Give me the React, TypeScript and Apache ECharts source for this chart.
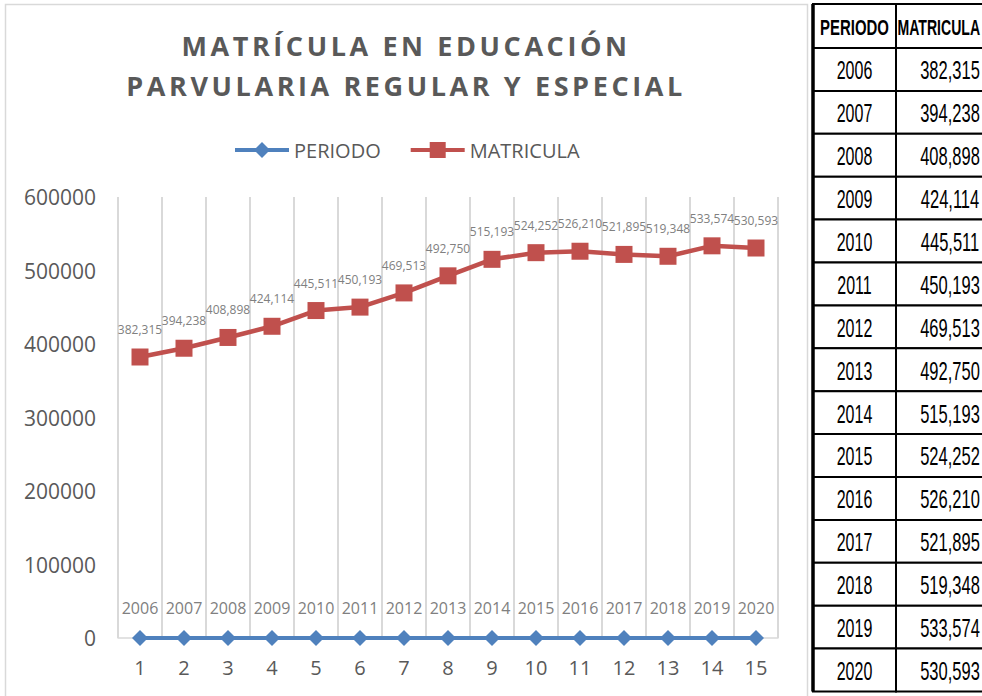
import React, { useEffect, useRef } from "react";
import * as echarts from "echarts";

const periods = ["2006", "2007", "2008", "2009", "2010", "2011", "2012", "2013", "2014", "2015", "2016", "2017", "2018", "2019", "2020"];
const indices = ["1", "2", "3", "4", "5", "6", "7", "8", "9", "10", "11", "12", "13", "14", "15"];
const periodoValues = [0, 0, 0, 0, 0, 0, 0, 0, 0, 0, 0, 0, 0, 0, 0];
const matricula = [382315, 394238, 408898, 424114, 445511, 450193, 469513, 492750, 515193, 524252, 526210, 521895, 519348, 533574, 530593];
const titleLines = ["MATRÍCULA EN EDUCACIÓN", "PARVULARIA REGULAR Y ESPECIAL"];
const tableHeaders = ["PERIODO", "MATRICULA"];

const fmt = (v: number) => v.toLocaleString("en-US");

export default function App() {
  const ref = useRef<HTMLDivElement>(null);
  useEffect(() => {
    if (!ref.current) return;
    const chart = echarts.init(ref.current, null, { renderer: "svg" });

    const tableX0 = 813;
    const tableX1 = 896;
    const tableX2 = 1010;
    const headerTop = 4;
    const rowTop = 48;
    const rowH = 42.9;
    const narrow = '"Liberation Sans", Arial, sans-serif';

    const scaledText = (x: number, y: number, sx: number, style: any) => ({
      type: "group",
      x,
      y,
      scaleX: sx,
      scaleY: 1,
      children: [{ type: "text", x: 0, y: 0, style }],
    });

    const tableEls: any[] = [];
    tableEls.push({ type: "rect", shape: { x: tableX0, y: headerTop, width: tableX1 - tableX0, height: rowTop - headerTop }, style: { fill: "#fff", stroke: "#000", lineWidth: 2 } });
    tableEls.push({ type: "rect", shape: { x: tableX1, y: headerTop, width: tableX2 - tableX1, height: rowTop - headerTop }, style: { fill: "#fff", stroke: "#000", lineWidth: 2 } });
    tableEls.push(scaledText((tableX0 + tableX1) / 2, (headerTop + rowTop) / 2 + 1, 0.68, { text: tableHeaders[0], fill: "#000", fontSize: 22, fontWeight: "bold", fontFamily: narrow, align: "center", verticalAlign: "middle" }));
    tableEls.push(scaledText(tableX1 + 1.5, (headerTop + rowTop) / 2 + 1, 0.64, { text: tableHeaders[1], fill: "#000", fontSize: 22, fontWeight: "bold", fontFamily: narrow, align: "left", verticalAlign: "middle" }));
    periods.forEach((p, i) => {
      const y = rowTop + i * rowH;
      tableEls.push({ type: "rect", shape: { x: tableX0, y, width: tableX1 - tableX0, height: rowH }, style: { fill: "#fff", stroke: "#000", lineWidth: 2 } });
      tableEls.push({ type: "rect", shape: { x: tableX1, y, width: tableX2 - tableX1, height: rowH }, style: { fill: "#fff", stroke: "#000", lineWidth: 2 } });
      tableEls.push(scaledText((tableX0 + tableX1) / 2, y + rowH / 2 + 1, 0.64, { text: p, fill: "#000", fontSize: 25, fontFamily: narrow, align: "center", verticalAlign: "middle" }));
      tableEls.push(scaledText(950, y + rowH / 2 + 1, 0.66, { text: fmt(matricula[i]), fill: "#000", fontSize: 25, fontFamily: narrow, align: "center", verticalAlign: "middle" }));
    });
    tableEls.push({ type: "line", shape: { x1: tableX0, y1: headerTop, x2: tableX0, y2: rowTop + periods.length * rowH }, style: { stroke: "#000", lineWidth: 3.5 } });

    chart.setOption({
      animation: false,
      backgroundColor: "#ffffff",
      textStyle: { fontFamily: "Open Sans" },
      graphic: [
        { type: "rect", z: -10, shape: { x: 5.5, y: 4.5, width: 802, height: 700 }, style: { fill: "none", stroke: "#d9d9d9", lineWidth: 1.5 } },
        { type: "text", x: 406, y: 45, style: { text: titleLines[0], fill: "#595959", fontSize: 27, fontWeight: "bold", fontFamily: "Open Sans", align: "center", verticalAlign: "middle" } },
        { type: "text", x: 406, y: 85, style: { text: titleLines[1], fill: "#595959", fontSize: 27, fontWeight: "bold", fontFamily: "Open Sans", align: "center", verticalAlign: "middle" } },
        ...tableEls,
      ],
      legend: {
        data: ["PERIODO", "MATRICULA"],
        left: 228,
        top: 135,
        itemWidth: 54,
        itemHeight: 20,
        itemGap: 28,
        lineStyle: { width: 4 },
        textStyle: { fontSize: 20, color: "#595959", fontFamily: "Open Sans" },
      },
      grid: { left: 118, right: 204, top: 197, bottom: 58, containLabel: false },
      xAxis: {
        type: "category",
        data: indices,
        boundaryGap: true,
        axisLine: { lineStyle: { color: "#d9d9d9", width: 1.5 } },
        axisTick: { show: false },
        axisLabel: { interval: 0, color: "#595959", fontSize: 20, margin: 19, fontFamily: "Open Sans" },
        splitLine: { show: true, interval: 0, lineStyle: { color: "#d9d9d9", width: 2 } },
      },
      yAxis: {
        type: "value",
        min: 0,
        max: 600000,
        interval: 100000,
        axisLine: { show: false },
        axisTick: { show: false },
        splitLine: { show: false },
        axisLabel: { color: "#595959", fontSize: 21, margin: 22, fontFamily: "Open Sans", formatter: (v: number) => String(v) },
      },
      series: [
        {
          name: "PERIODO",
          type: "line",
          data: periodoValues,
          symbol: "diamond",
          symbolSize: 16,
          color: "#4f81bd",
          itemStyle: { color: "#4f81bd" },
          lineStyle: { color: "#4f81bd", width: 4 },
          label: {
            show: true,
            position: "top",
            distance: 14,
            formatter: (p: any) => periods[p.dataIndex],
            fontSize: 16,
            color: "#808080",
            fontFamily: "Open Sans",
          },
        },
        {
          name: "MATRICULA",
          type: "line",
          data: matricula,
          symbol: "rect",
          symbolSize: 17,
          color: "#c0504d",
          itemStyle: { color: "#c0504d" },
          lineStyle: { color: "#c0504d", width: 4.5 },
          label: {
            show: true,
            position: "top",
            distance: 13,
            formatter: (p: any) => fmt(p.value),
            fontSize: 12,
            color: "#808080",
            fontFamily: "Open Sans",
          },
        },
      ],
    });

    const applySpacing = () => {
      if (!ref.current) return;
      ref.current.querySelectorAll("text").forEach((t) => {
        const s = t.textContent || "";
        if (titleLines.includes(s)) (t as SVGTextElement).style.letterSpacing = "3.6px";
      });
    };
    applySpacing();
    chart.on("finished", applySpacing);

    return () => {
      chart.dispose();
    };
  }, []);

  return <div ref={ref} style={{ position: "absolute", left: 0, top: 0, width: 982, height: 696 }} />;
}
